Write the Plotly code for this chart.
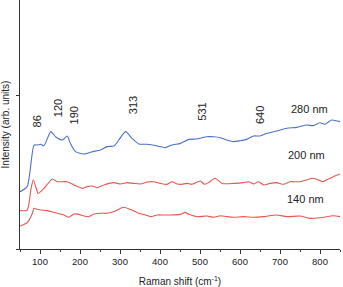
import plotly.graph_objects as go

# Raman shift (cm^-1) and intensity (arb. units)
x_280 = [50, 68, 85, 93, 102, 110, 127, 139, 156, 168, 176, 189, 210, 231, 251, 268, 285, 297, 314, 330,
         347, 368, 393, 413, 430, 451, 472, 492, 505, 517, 534, 551, 567, 584, 600, 617, 634, 650, 667, 692,
         717, 742, 767, 783, 800, 812, 829, 850]
y_280 = [0.372, 0.405, 0.675, 0.675, 0.680, 0.671, 0.762, 0.729, 0.708, 0.734, 0.686, 0.632, 0.617, 0.632,
         0.643, 0.665, 0.669, 0.708, 0.762, 0.719, 0.682, 0.680, 0.669, 0.658, 0.675, 0.686, 0.712, 0.714,
         0.723, 0.729, 0.729, 0.723, 0.708, 0.697, 0.703, 0.712, 0.734, 0.734, 0.751, 0.766, 0.784, 0.790,
         0.805, 0.801, 0.820, 0.810, 0.838, 0.827]

x_200 = [50, 68, 77, 83, 92, 95, 110, 131, 143, 168, 185, 206, 218, 231, 243, 260, 285, 301, 318, 334,
         351, 368, 384, 401, 418, 430, 443, 455, 467, 480, 501, 511, 521, 538, 555, 584, 609, 621, 634, 646,
         659, 675, 692, 709, 725, 750, 783, 800, 808, 821, 833, 850]
y_200 = [0.249, 0.253, 0.383, 0.448, 0.383, 0.361, 0.394, 0.455, 0.437, 0.437, 0.416, 0.394, 0.405, 0.409,
         0.398, 0.416, 0.431, 0.422, 0.431, 0.426, 0.422, 0.435, 0.437, 0.426, 0.420, 0.437, 0.422, 0.420,
         0.426, 0.420, 0.442, 0.420, 0.431, 0.459, 0.426, 0.426, 0.431, 0.437, 0.422, 0.437, 0.416, 0.426,
         0.431, 0.420, 0.437, 0.437, 0.459, 0.444, 0.437, 0.455, 0.470, 0.487]

x_140 = [50, 68, 81, 85, 93, 102, 118, 143, 160, 172, 185, 197, 210, 222, 235, 251, 268, 289, 309, 330,
         347, 364, 376, 393, 409, 426, 451, 463, 472, 492, 517, 534, 551, 567, 584, 609, 634, 659, 692, 717,
         750, 775, 800, 833, 850]
y_140 = [0.149, 0.171, 0.232, 0.264, 0.258, 0.253, 0.249, 0.232, 0.221, 0.206, 0.227, 0.225, 0.214, 0.210,
         0.227, 0.232, 0.232, 0.247, 0.271, 0.253, 0.232, 0.221, 0.210, 0.221, 0.221, 0.221, 0.225, 0.238,
         0.225, 0.210, 0.214, 0.206, 0.216, 0.210, 0.206, 0.210, 0.206, 0.210, 0.221, 0.210, 0.214, 0.199,
         0.203, 0.216, 0.210]

peak_labels = ["86", "120", "190", "313", "531", "640"]
peak_x = [92, 147, 186, 333, 505, 650]
peak_y = [0.827, 0.913, 0.870, 0.935, 0.892, 0.870]

series_names = ["280 nm", "200 nm", "140 nm"]
name_x = [773, 767, 763]
name_y = [0.907, 0.608, 0.323]

x_ticks = [100, 200, 300, 400, 500, 600, 700, 800]

BLUE = "#4d70c6"
RED = "#e8564e"
FONT = "Liberation Sans, Arial, sans-serif"

fig = go.Figure()
for xs, ys, col in [(x_280, y_280, BLUE), (x_200, y_200, RED), (x_140, y_140, RED)]:
    fig.add_trace(go.Scatter(x=xs, y=ys, mode="lines",
                             line=dict(color=col, width=1.1, shape="spline", smoothing=0.6),
                             showlegend=False, hoverinfo="skip"))

for lab, px, py in zip(peak_labels, peak_x, peak_y):
    fig.add_annotation(x=px, y=py, text=lab, showarrow=False, textangle=-90,
                       font=dict(family=FONT, size=11, color="#222"))
for lab, px, py in zip(series_names, name_x, name_y):
    fig.add_annotation(x=px, y=py, text=lab, showarrow=False,
                       font=dict(family=FONT, size=11, color="#222"))

fig.update_layout(
    width=343, height=287,
    margin=dict(l=20, r=3, t=0, b=38),
    paper_bgcolor="white", plot_bgcolor="white",
    font=dict(family=FONT, size=9, color="#222"),
    xaxis=dict(range=[50, 850], tickvals=x_ticks, ticks="outside", ticklen=4, tickwidth=1,
               tickcolor="#333", showline=True, linecolor="#333", linewidth=1, showgrid=False,
               zeroline=False, tickfont=dict(size=9.5),
               minor=dict(dtick=50, tick0=50, ticks="outside", ticklen=2, tickcolor="#333"),
               title=dict(text="Raman shift (cm<sup>-1</sup>)", font=dict(size=10), standoff=12)),
    yaxis=dict(range=[0, 1.617], tickvals=[0, 1], showticklabels=False, ticks="outside", ticklen=3,
               tickcolor="#333", showline=True, linecolor="#333", linewidth=1, showgrid=False,
               zeroline=False,
               title=dict(text="Intensity (arb. units)", font=dict(size=10), standoff=4)),
)

fig.write_html("out.html")
